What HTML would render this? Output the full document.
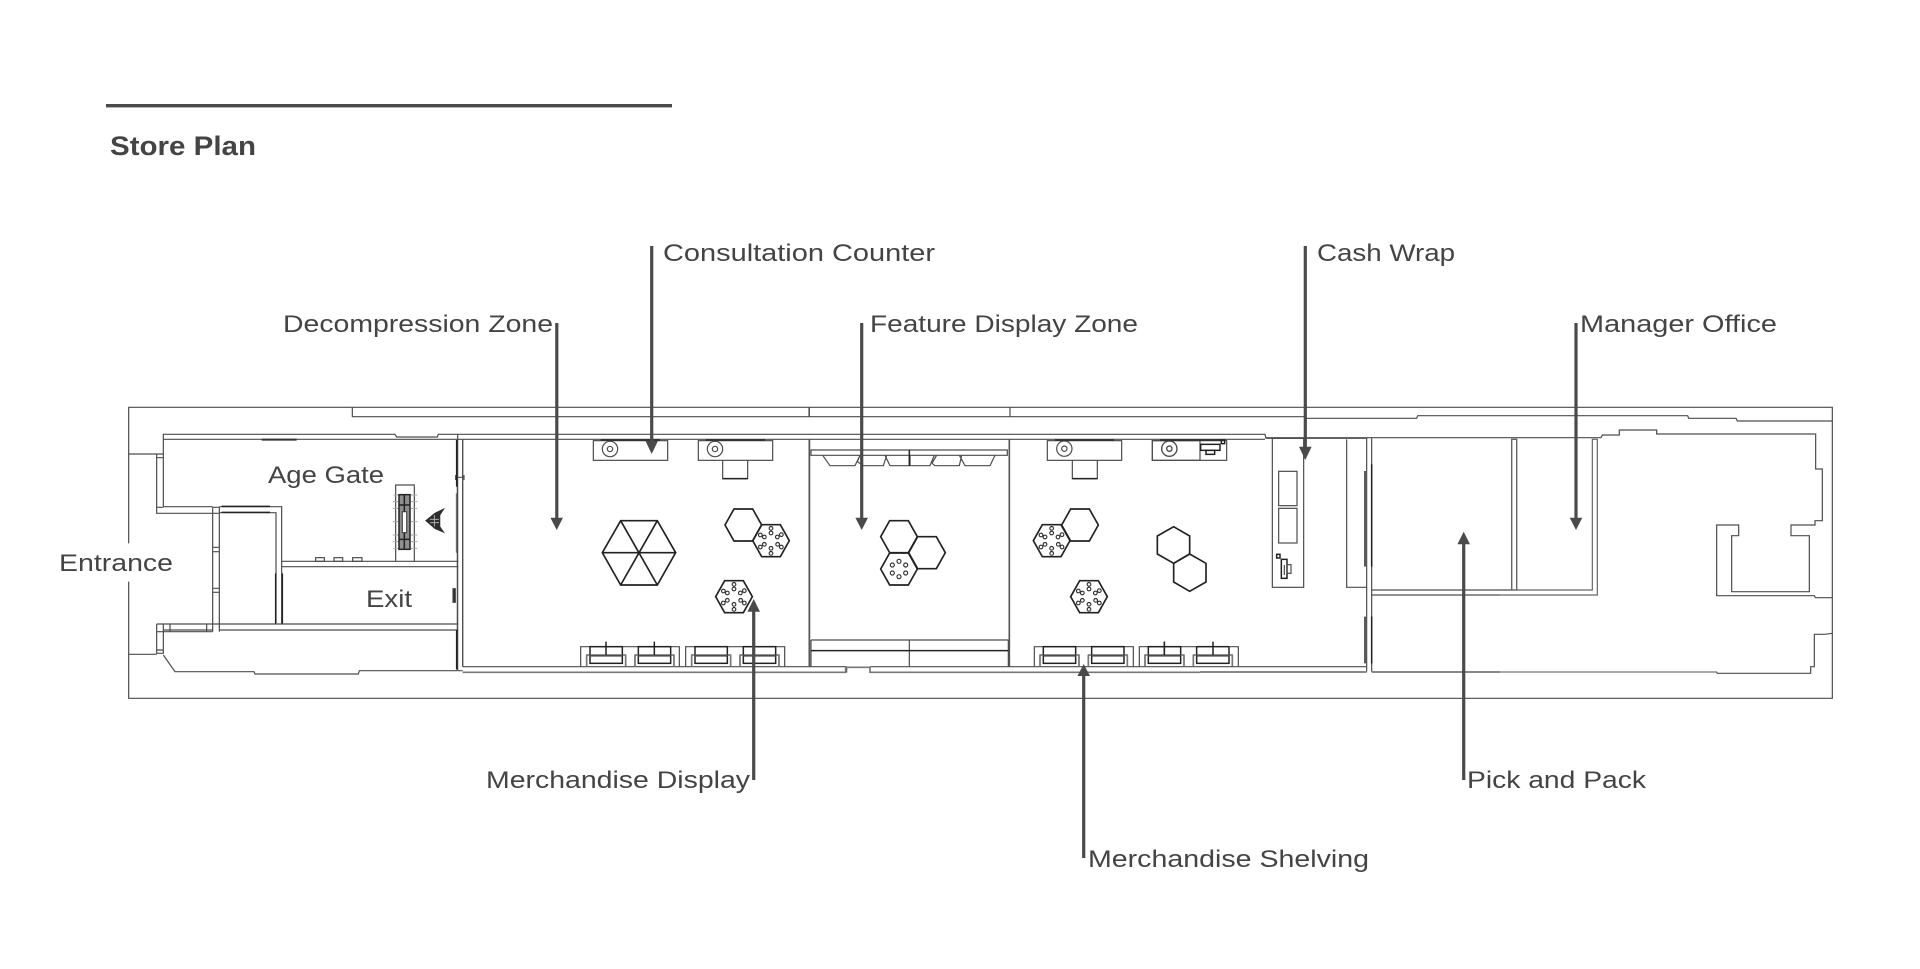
<!DOCTYPE html>
<html><head><meta charset="utf-8"><title>Store Plan</title>
<style>
html,body{margin:0;padding:0;background:#fff;width:1920px;height:969px;overflow:hidden}
svg{display:block}
text{font-family:"Liberation Sans",sans-serif;fill:#444;font-size:24.5px}
.p path,.p rect,.p circle,.p polygon{fill:none}
.p{stroke:#4d4d4d;stroke-width:3.6;fill:none}
.t{stroke:#333;stroke-width:6}
.g{stroke:#777;stroke-width:5}
.h{stroke:#222;stroke-width:4.5}
</style></head><body>
<svg width="1920" height="969" viewBox="0 0 1920 969" xmlns="http://www.w3.org/2000/svg">
<defs>
<g id="chair" class="p"><rect x="10" y="0" width="97" height="50" class="h"/><path d="M0 60V25H117V60M10 28H107"/><path d="M0 25V60M117 25V60" class="g"/></g>
<g id="d">
<circle cx="0" cy="-37" r="5.5"/><circle cx="0" cy="-23" r="5.5"/>
<circle cx="31" cy="-18" r="5.5"/><circle cx="19" cy="-11" r="5.5"/>
<circle cx="-32" cy="-17" r="5.5"/><circle cx="-20" cy="-11" r="5.5"/>
<circle cx="-20" cy="11" r="5.5"/><circle cx="-32" cy="19" r="5.5"/>
<circle cx="20" cy="11" r="5.5"/><circle cx="31" cy="19" r="5.5"/>
<circle cx="0" cy="23" r="5.5"/><circle cx="0" cy="38" r="5.5"/>
</g>
<path id="hx" d="M-55 0L-28 -48H28L55 0L28 48H-28Z"/>
</defs>

<!-- title -->
<rect x="106" y="104" width="566" height="3.4" fill="#4a4a4a"/>
<text x="110" y="155" textLength="146" lengthAdjust="spacingAndGlyphs" style="font-weight:700;font-size:27px">Store Plan</text>

<!-- Zone 1 -->
<g class="p" transform="translate(100,400) scale(.33333)">
<path d="M86 430V22H1200M86 545V895H1200"/>
<path d="M757 22V50H1200"/>
<path d="M86 162H170M86 763H170"/>
<path d="M190 118V103H885L890 111H1012L1015 103H1200M190 118H1200"/>
<path d="M190 118V320M170 162H190M170 162V340H338M170 173H190M190 320H338M170 322H190"/>
<path d="M338 322H358V695M338 322V695M338 340H358M338 442H358M338 455H358M338 565H358M338 577H358"/>
<path d="M358 320H545V672M358 338H528V672"/>
<path d="M365 319H510M365 337H510M527 520V672M547 520V672" class="h"/>
<path d="M170 672H1075M358 690H1075M170 672V760H190V690H338M170 695H190M170 750H190M190 672V695H338M210 672V695M320 672V695"/>
<path d="M545 484H1075M545 500H1075"/>
<rect x="647" y="473" width="26" height="11"/><rect x="702" y="473" width="26" height="11"/><rect x="758" y="473" width="28" height="11"/>
<path d="M1073 103V810M1088 118V800"/>
<path d="M1071 120V260M1071 690V808" class="h"/>
<path d="M1070 280V458" class="g"/>
<path d="M1067 225V240M1092 225V240M1067 232H1093"/>
<rect x="1059" y="566" width="7" height="41" style="fill:#222"/>
<path d="M485 119H590" class="t"/>
<path d="M190 765L225 815H462L465 822H775L778 812H1088"/>
<path d="M887 484V255H943V484"/>
<path d="M878 305H952M878 325H952M878 365H952M878 405H952M878 425H952M880 285H952M880 445H952" style="stroke:#aaa;stroke-width:3"/>
<rect x="897" y="284" width="33" height="164" class="h" style="fill:#8f8f8f"/>
<rect x="907" y="335" width="13" height="63" style="fill:#fff"/>
<path d="M913 284V335M913 398V448M897 315H930M897 418H930" class="h"/>
<path d="M978 362L1005 340L1030 328L1019 345V380L1030 396L1005 385Z" style="fill:#2e2e2e;stroke:#2e2e2e"/>
<path d="M1003 345V380M990 358H1017M990 368H1017" style="stroke:#bbb;stroke-width:2.5"/>
</g>

<!-- Zone 2 -->
<g class="p" transform="translate(450,400) scale(.33333)">
<path d="M150 22H1200M150 50H1200M1077 22V50M150 895H1200"/>
<path d="M150 103H1200M150 118H1200"/>
<path d="M22 118V810M38 118V800"/>
<path d="M20 120V260M20 690V808" class="h"/>
<path d="M38 800H1190M1190 800V817"/>
<path d="M38 817H1190" class="g"/>
<rect x="430" y="122" width="223" height="59"/><circle cx="480" cy="147" r="23"/><circle cx="480" cy="147" r="8"/>
<path d="M452 120H630" class="t"/>
<rect x="745" y="122" width="223" height="59"/><circle cx="795" cy="147" r="23"/><circle cx="795" cy="147" r="8"/>
<path d="M767 120H945" class="t"/>
<path d="M818 181V236H893V181"/><path d="M818 236H893" class="h"/>
<g style="stroke:#222;stroke-width:5">
<path d="M457 458L512 362H622L677 458L622 555H512ZM457 458H677M512 362L622 555M622 362L512 555"/>
<use href="#hx" x="880" y="375"/><use href="#hx" x="963" y="422"/><use href="#hx" x="852" y="590"/>
</g>
<g style="stroke:#333;stroke-width:3.5"><use href="#d" x="963" y="422"/><use href="#d" x="852" y="590"/></g>
<path d="M1078 118V800" class="g"/>
<path d="M392 800V740H688V800M707 800V740H1004V800"/>
<use href="#chair" x="410" y="740"/><use href="#chair" x="555" y="740"/><use href="#chair" x="725" y="740"/><use href="#chair" x="870" y="740"/>
<path d="M468 725V765M613 725V765" class="h"/>
</g>

<!-- Zone 3 -->
<g class="p" transform="translate(800,400) scale(.33333)">
<path d="M150 22H1200M150 50H1200M630 22V50M150 895H1200"/>
<path d="M28 22V50"/>
<path d="M150 103H1200M150 118H1200"/>
<path d="M28 118V800M628 118V800" class="g" style="stroke:#555"/>
<path d="M33 150H622V166H33ZM68 166L90 197H165L180 166L172 185L190 197H250L260 166M255 166L270 197H328V166M330 166V197H390L403 166M396 190L410 166M396 190L405 197H478L485 166M478 166L495 197H570L585 166"/>
<path d="M328 150V197" class="h"/>
<path d="M33 720H625M33 800V720M625 800V720M328 720V800"/>
<path d="M33 752H625" class="h"/>
<path d="M210 800H1200"/>
<path d="M137 817V802H210V817H1200" class="g"/>
<rect x="742" y="122" width="223" height="59"/><circle cx="793" cy="146" r="23"/><circle cx="793" cy="146" r="8"/>
<path d="M765 120H942" class="t"/>
<path d="M817 181V236H892V181"/><path d="M817 236H892" class="h"/>
<rect x="1057" y="122" width="143" height="59"/><circle cx="1108" cy="146" r="23"/><circle cx="1108" cy="146" r="8"/>
<g style="stroke:#222;stroke-width:5">
<use href="#hx" x="297" y="410"/><use href="#hx" x="381" y="458"/><use href="#hx" x="297" y="507"/>
<use href="#hx" x="840" y="375"/><use href="#hx" x="755" y="422"/><use href="#hx" x="867" y="590"/>
</g>
<g style="stroke:#333;stroke-width:3.5">
<use href="#d" x="755" y="422"/><use href="#d" x="867" y="590"/>
<circle cx="297" cy="484" r="6"/><circle cx="317" cy="495" r="6"/><circle cx="317" cy="519" r="6"/><circle cx="297" cy="530" r="6"/><circle cx="277" cy="519" r="6"/><circle cx="277" cy="495" r="6"/>
</g>
<path d="M703 800V740H1000V800M1018 800V740H1200"/>
<use href="#chair" x="720" y="740"/><use href="#chair" x="865" y="740"/><use href="#chair" x="1035" y="740"/><use href="#chair" x="1180" y="740"/>
<path d="M1093 725V765" class="h"/>
</g>

<!-- Zone 4 -->
<g class="p" transform="translate(1150,400) scale(.33333)">
<path d="M150 22H1050M150 50H465L470 55H800L803 47H1050M150 895H1050"/>
<path d="M150 103H345L348 115H650M348 113H1050M150 118H345"/>
<rect x="7" y="122" width="223" height="59" style="stroke-dasharray:none"/><circle cx="58" cy="146" r="23"/><circle cx="58" cy="146" r="8"/>
<path d="M30 120H212" class="t"/>
<rect x="152" y="133" width="58" height="18" class="h"/><rect x="168" y="151" width="26" height="12" class="h"/>
<rect x="214" y="120" width="10" height="11" class="h"/>
<rect x="367" y="115" width="94" height="447"/>
<rect x="386" y="214" width="55" height="103"/><rect x="386" y="325" width="55" height="104"/>
<rect x="380" y="463" width="10" height="11" class="h"/>
<rect x="394" y="478" width="17" height="57" class="h"/><rect x="411" y="494" width="12" height="26"/>
<path d="M403 495V525"/>
<path d="M590 118V562H650"/>
<path d="M650 113V815M665 113V815"/>
<path d="M645 213V500M665 193V500M645 650V790M665 650V790" class="h"/>
<path d="M150 800H648"/>
<path d="M150 816H650" class="g"/><path d="M665 816H1050" class="g"/>
<path d="M665 570H1085V118H1100V570H1050M665 585H1050"/>
<g style="stroke:#222;stroke-width:5">
<path d="M71 380L119 408V462L71 490L22 462V408Z"/>
<path d="M119 462L168 490V546L119 574L71 546V490Z"/>
</g>
<path d="M0 740H92V790M0 765H100V800M140 740H237V790H140ZM130 800V765H247V800M140 790H237M265 800V740H237M100 800H130" style="opacity:0"/>
<path d="M43 725V765M189 725V765" class="h"/>
<path d="M265 800V740H240"/>
</g>

<!-- Zone 5 -->
<g class="p" transform="translate(1500,400) scale(.33333)">
<path d="M0 22H997V895H0"/>
<path d="M0 47H563L566 55H708L712 63H997"/>
<path d="M0 113H303L307 105H358V90H470V102H947V207H967V362H945V375H873V407H928V575H695V407H716V375H650V587H943L946 593H997"/>
<path d="M997 700L975 703H943V800H932V820H652L649 815"/>
<path d="M0 816H650" class="g" style="stroke-width:4"/>
<path d="M0 570H35V118H50V570H277V118H292V585H0" style="stroke:#666"/>
</g>

<!-- arrows -->
<g fill="#4a4a4a" stroke="none">
<rect x="555.2" y="323" width="3.2" height="197"/><polygon points="550.4,517.7 563,517.7 556.7,530"/>
<rect x="650.1" y="246" width="3.2" height="197"/><polygon points="645.4,440.7 658,440.7 651.7,454"/>
<rect x="860.1" y="323" width="3.2" height="197"/><polygon points="855.4,517.7 868,517.7 861.7,530"/>
<rect x="1303.7" y="246" width="3.2" height="203"/><polygon points="1299,446.7 1311.6,446.7 1305.3,460"/>
<rect x="1574.4" y="323" width="3.2" height="197"/><polygon points="1569.7,517.7 1582.3,517.7 1576,530"/>
<rect x="1462.1" y="542" width="3.2" height="238"/><polygon points="1457.4,544.3 1470,544.3 1463.7,531.7"/>
<rect x="752.1" y="609" width="3.2" height="171"/><polygon points="747.4,611.7 760,611.7 753.7,599"/>
<rect x="1082.1" y="674" width="3.2" height="184"/><polygon points="1077.4,676 1090,676 1083.7,664"/>
</g>

<!-- labels -->
<text x="663" y="261" textLength="272" lengthAdjust="spacingAndGlyphs">Consultation Counter</text>
<text x="283" y="332" textLength="270" lengthAdjust="spacingAndGlyphs">Decompression Zone</text>
<text x="870" y="332" textLength="268" lengthAdjust="spacingAndGlyphs">Feature Display Zone</text>
<text x="1317" y="261" textLength="138" lengthAdjust="spacingAndGlyphs">Cash Wrap</text>
<text x="1580" y="332" textLength="197" lengthAdjust="spacingAndGlyphs">Manager Office</text>
<text x="59" y="571" textLength="114" lengthAdjust="spacingAndGlyphs">Entrance</text>
<text x="268" y="483" textLength="116" lengthAdjust="spacingAndGlyphs">Age Gate</text>
<text x="366" y="607" textLength="46" lengthAdjust="spacingAndGlyphs">Exit</text>
<text x="486" y="788" textLength="264" lengthAdjust="spacingAndGlyphs">Merchandise Display</text>
<text x="1467" y="788" textLength="179" lengthAdjust="spacingAndGlyphs">Pick and Pack</text>
<text x="1088" y="867" textLength="281" lengthAdjust="spacingAndGlyphs">Merchandise Shelving</text>
</svg>
</body></html>
